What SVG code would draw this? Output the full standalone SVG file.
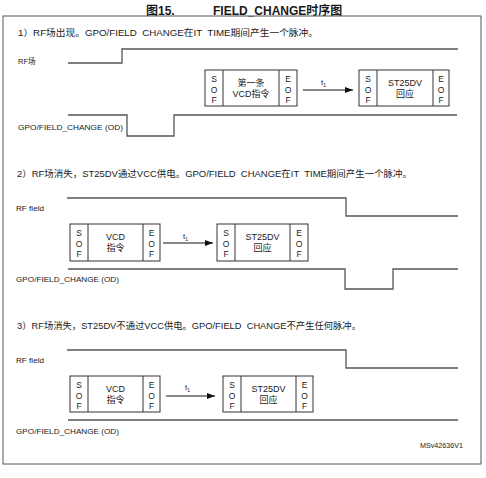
<svg xmlns="http://www.w3.org/2000/svg" width="486" height="478" viewBox="0 0 486 478">
<style>
text{font-family:"Liberation Sans","Noto Sans CJK SC",Arial,sans-serif;fill:#1a1a1a}
.title{font-size:12px;font-weight:bold}
.hdr{font-size:9px}
.lbl{font-size:7.5px}
.box{fill:#fff;stroke:#333;stroke-width:1}
.div{stroke:#333;stroke-width:1}
.sig{fill:none;stroke:#555;stroke-width:1.3}
.bt{font-size:9px;text-anchor:middle}
.sof{font-size:8.5px;text-anchor:middle}
.t1{font-size:8px}
.arr{stroke:#111;stroke-width:1;fill:none}
</style>
<defs>
<marker id="ah" markerWidth="8" markerHeight="6" refX="8" refY="3" orient="auto" markerUnits="userSpaceOnUse">
<path d="M0,0 L8,3 L0,6 Z" fill="#111"/>
</marker>
</defs>
<rect width="486" height="478" fill="#fff"/>
<text class="title" x="146" y="15">图15.</text>
<text class="title" x="213" y="15">FIELD_CHANGE时序图</text>
<rect x="3" y="16" width="478" height="448" fill="none" stroke="#555" stroke-width="1"/>

<text class="hdr" x="18" y="36" textLength="300" lengthAdjust="spacingAndGlyphs">1）RF场出现。GPO/FIELD&#160; CHANGE在IT&#160; TIME期间产生一个脉冲。</text>
<text class="hdr" x="17" y="177" textLength="395" lengthAdjust="spacingAndGlyphs">2）RF场消失，ST25DV通过VCC供电。GPO/FIELD&#160; CHANGE在IT&#160; TIME期间产生一个脉冲。</text>
<text class="hdr" x="17" y="329" textLength="344" lengthAdjust="spacingAndGlyphs">3）RF场消失，ST25DV不通过VCC供电。GPO/FIELD&#160; CHANGE不产生任何脉冲。</text>

<g id="labels">
<text class="lbl" x="18" y="64">RF场</text>
<text class="lbl" x="18" y="130" textLength="105" lengthAdjust="spacingAndGlyphs">GPO/FIELD_CHANGE (OD)</text>
<text class="lbl" x="16" y="211" textLength="28" lengthAdjust="spacingAndGlyphs">RF field</text>
<text class="lbl" x="16" y="282" textLength="103" lengthAdjust="spacingAndGlyphs">GPO/FIELD_CHANGE (OD)</text>
<text class="lbl" x="16" y="363" textLength="28" lengthAdjust="spacingAndGlyphs">RF field</text>
<text class="lbl" x="16" y="434" textLength="103" lengthAdjust="spacingAndGlyphs">GPO/FIELD_CHANGE (OD)</text>
<text x="420" y="448" style="font-size:6.5px" textLength="43" lengthAdjust="spacingAndGlyphs">MSv42636V1</text>
</g>

<g id="signals">
<polyline class="sig" points="68,63 122,63 122,49 458,49"/>
<polyline class="sig" points="68,115 127,115 127,136 174,136 174,115 457,115"/>
<polyline class="sig" points="67,198 346,198 346,216 458,216"/>
<polyline class="sig" points="68,269 345,269 345,289 393,289 393,269 458,269"/>
<polyline class="sig" points="67,350 346,350 346,368 458,368"/>
<polyline class="sig" points="68,420 458,420"/>
</g>

<g id="s1-vcd">
<rect class="box" x="205" y="70" width="92" height="36"/>
<line class="div" x1="223" y1="70" x2="223" y2="106"/>
<line class="div" x1="279" y1="70" x2="279" y2="106"/>
<text class="sof" x="214" y="82">S</text><text class="sof" x="214" y="92.5">O</text><text class="sof" x="214" y="103">F</text>
<text class="bt" x="251" y="86">第一条</text>
<text class="bt" x="251" y="96.5">VCD指令</text>
<text class="sof" x="288" y="82">E</text><text class="sof" x="288" y="92.5">O</text><text class="sof" x="288" y="103">F</text>
</g>
<g id="s1-resp">
<rect class="box" x="359" y="70" width="90" height="36"/>
<line class="div" x1="377" y1="70" x2="377" y2="106"/>
<line class="div" x1="433" y1="70" x2="433" y2="106"/>
<text class="sof" x="368" y="82">S</text><text class="sof" x="368" y="92.5">O</text><text class="sof" x="368" y="103">F</text>
<text class="bt" x="405" y="86">ST25DV</text>
<text class="bt" x="405" y="96.5">回应</text>
<text class="sof" x="441" y="82">E</text><text class="sof" x="441" y="92.5">O</text><text class="sof" x="441" y="103">F</text>
</g>

<g id="s2-vcd">
<rect class="box" x="70" y="224" width="90" height="37"/>
<line class="div" x1="88" y1="224" x2="88" y2="261"/>
<line class="div" x1="143" y1="224" x2="143" y2="261"/>
<text class="sof" x="79" y="236">S</text><text class="sof" x="79" y="246.5">O</text><text class="sof" x="79" y="257">F</text>
<text class="bt" x="115.5" y="240">VCD</text>
<text class="bt" x="115.5" y="251">指令</text>
<text class="sof" x="151.5" y="236">E</text><text class="sof" x="151.5" y="246.5">O</text><text class="sof" x="151.5" y="257">F</text>
</g>
<g id="s2-resp">
<rect class="box" x="217" y="224" width="91" height="37"/>
<line class="div" x1="235" y1="224" x2="235" y2="261"/>
<line class="div" x1="290" y1="224" x2="290" y2="261"/>
<text class="sof" x="226" y="236">S</text><text class="sof" x="226" y="246.5">O</text><text class="sof" x="226" y="257">F</text>
<text class="bt" x="262.5" y="240">ST25DV</text>
<text class="bt" x="262.5" y="251">回应</text>
<text class="sof" x="299" y="236">E</text><text class="sof" x="299" y="246.5">O</text><text class="sof" x="299" y="257">F</text>
</g>

<g id="s3-vcd">
<rect class="box" x="70" y="376" width="90" height="36"/>
<line class="div" x1="88" y1="376" x2="88" y2="412"/>
<line class="div" x1="143" y1="376" x2="143" y2="412"/>
<text class="sof" x="79" y="388">S</text><text class="sof" x="79" y="398.5">O</text><text class="sof" x="79" y="409">F</text>
<text class="bt" x="115.5" y="391.5">VCD</text>
<text class="bt" x="115.5" y="402.5">指令</text>
<text class="sof" x="151.5" y="388">E</text><text class="sof" x="151.5" y="398.5">O</text><text class="sof" x="151.5" y="409">F</text>
</g>
<g id="s3-resp">
<rect class="box" x="223" y="376" width="90" height="36"/>
<line class="div" x1="241" y1="376" x2="241" y2="412"/>
<line class="div" x1="296" y1="376" x2="296" y2="412"/>
<text class="sof" x="232" y="388">S</text><text class="sof" x="232" y="398.5">O</text><text class="sof" x="232" y="409">F</text>
<text class="bt" x="268.5" y="391.5">ST25DV</text>
<text class="bt" x="268.5" y="402.5">回应</text>
<text class="sof" x="304.5" y="388">E</text><text class="sof" x="304.5" y="398.5">O</text><text class="sof" x="304.5" y="409">F</text>
</g>

<g id="connectors">
<line class="arr" x1="303" y1="90" x2="353" y2="90" marker-end="url(#ah)"/>
<text class="t1" x="321" y="85">t<tspan style="font-size:5px" dy="1.5">1</tspan></text>
<line class="arr" x1="163" y1="243" x2="213" y2="243" marker-end="url(#ah)"/>
<text class="t1" x="183" y="239">t<tspan style="font-size:5px" dy="1.5">1</tspan></text>
<line class="arr" x1="166" y1="396" x2="215" y2="396" marker-end="url(#ah)"/>
<text class="t1" x="185" y="390">t<tspan style="font-size:5px" dy="1.5">1</tspan></text>
</g>
</svg>
